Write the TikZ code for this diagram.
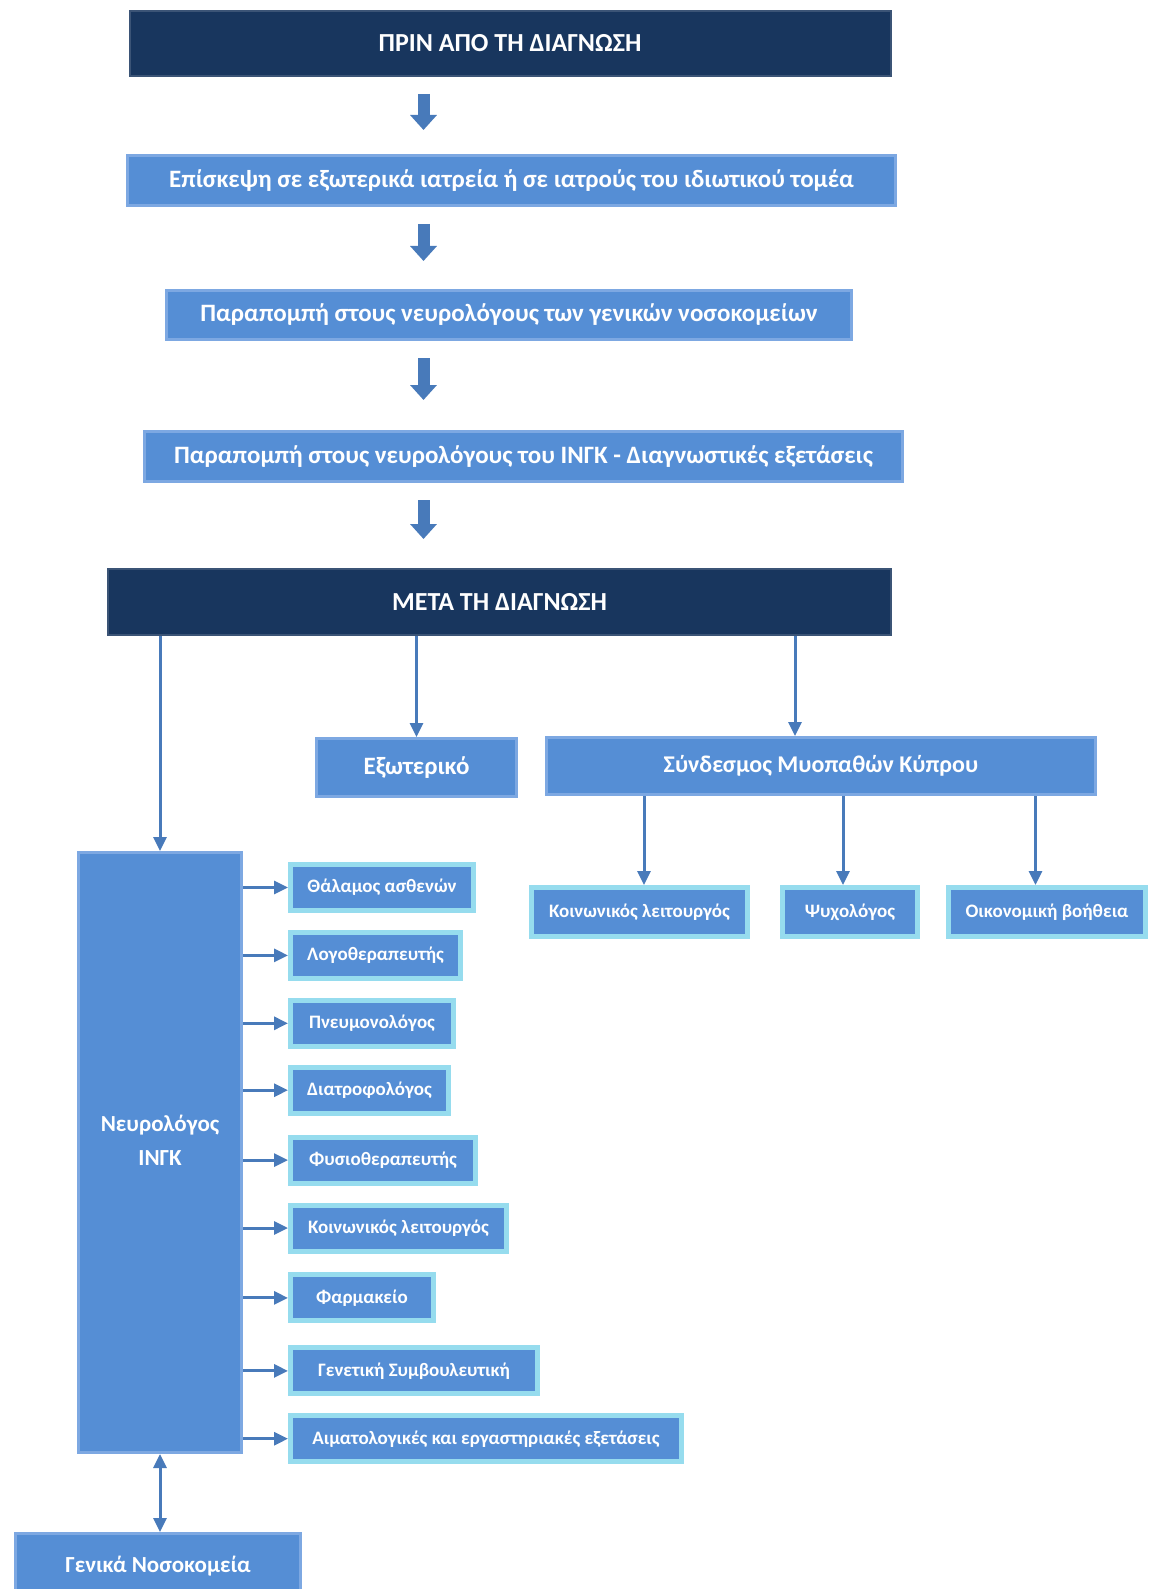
\documentclass[tikz,border=0pt]{standalone}
\usepackage{fontspec}
\setmainfont{Carlito}
\usepackage{tikz}
\usetikzlibrary{arrows.meta}
\definecolor{navy}{RGB}{24,54,94}
\definecolor{boxblue}{RGB}{85,142,213}
\definecolor{boxedge}{RGB}{125,168,226}
\definecolor{glow}{RGB}{150,220,238}
\definecolor{arrowblue}{RGB}{72,122,186}

\begin{document}
\begin{tikzpicture}[x=1pt,y=-1pt,>={Triangle[width=13pt,length=14pt]},
 head/.style={fill=navy,draw=navy!85!white,line width=2pt,text=white,inner sep=0pt,font=\fontsize{26}{30}\selectfont\bfseries},
 wide/.style={fill=boxblue,draw=boxedge,line width=3pt,text=white,inner sep=0pt,font=\fontsize{25}{29}\selectfont\bfseries},
 unit/.style={fill=boxblue,draw=glow,line width=5pt,text=white,inner sep=0pt,minimum height=46pt,font=\fontsize{19}{22}\selectfont\bfseries},
 down/.style={arrowblue,line width=12pt,-{Triangle[width=26pt,length=15pt]},shorten <=17pt},
 link/.style={arrowblue,line width=3pt}]
\fill[white] (0,0) rectangle (1148,1589);
\useasboundingbox (0,0) rectangle (1148,1589);
% before diagnosis
\node[head,minimum width=761pt,minimum height=65pt] (pre) at (510,43.5) {ΠΡΙΝ ΑΠΟ ΤΗ ΔΙΑΓΝΩΣΗ};
\node[wide,minimum width=768pt,minimum height=50pt] (visit) at (511.5,180.5) {Επίσκεψη σε εξωτερικά ιατρεία ή σε ιατρούς του ιδιωτικού τομέα};
\node[wide,minimum width=685pt,minimum height=49pt] (general) at (509,315) {Παραπομπή στους νευρολόγους των γενικών νοσοκομείων};
\node[wide,minimum width=758pt,minimum height=50pt] (ingk) at (523.5,456.5) {Παραπομπή στους νευρολόγους του ΙΝΓΚ - Διαγνωστικές εξετάσεις};
\node[head,minimum width=783pt,minimum height=66pt] (post) at (499.5,602) {ΜΕΤΑ ΤΗ ΔΙΑΓΝΩΣΗ};
\coordinate (ax) at (423.5,0);
\draw[down,shorten >=24pt] (pre.south -| ax) -- (visit.north -| ax);
\draw[down,shorten >=28pt] (visit.south -| ax) -- (general.north -| ax);
\draw[down,shorten >=30pt] (general.south -| ax) -- (ingk.north -| ax);
\draw[down,shorten >=29pt] (ingk.south -| ax) -- (post.north -| ax);
% after diagnosis
\node[wide,minimum width=200pt,minimum height=58pt] (abroad) at (416.5,767.5) {Εξωτερικό};
\node[wide,minimum width=549pt,minimum height=57pt,font=\fontsize{24}{28}\selectfont\bfseries] (assoc) at (821,766) {Σύνδεσμος Μυοπαθών Κύπρου};
\node[unit,minimum width=216pt,minimum height=49pt] (social) at (639.5,912) {Κοινωνικός λειτουργός};
\node[unit,minimum width=135pt,minimum height=49pt] (psych) at (850,912) {Ψυχολόγος};
\node[unit,minimum width=197pt,minimum height=49pt] (money) at (1047,912) {Οικονομική βοήθεια};
\node[wide,minimum width=163pt,minimum height=600pt,align=center,font=\fontsize{23}{34}\selectfont\bfseries] (neuro) at (160,1152.5) {Νευρολόγος\\ΙΝΓΚ\\[-10pt]};
\node[wide,minimum width=285pt,minimum height=65pt,font=\fontsize{23}{28}\selectfont\bfseries] (hosp) at (158,1566) {Γενικά Νοσοκομεία};
\coordinate (sx) at (795,0);
\draw[link,->] (post.south -| neuro.north) -- (neuro.north);
\draw[link,->] (post.south -| abroad.north) -- (abroad.north);
\draw[link,->] (post.south -| sx) -- (assoc.north -| sx);
\draw[link,->] ([xshift=4.5pt]assoc.south -| social.north) -- ([xshift=4.5pt]social.north);
\draw[link,->] ([xshift=-7pt]assoc.south -| psych.north) -- ([xshift=-7pt]psych.north);
\draw[link,->] ([xshift=-11.5pt]assoc.south -| money.north) -- ([xshift=-11.5pt]money.north);
\draw[link,<->] (neuro.south) -- (neuro.south |- hosp.north);
% services of the neurologist
\node[unit,minimum width=183pt] (ward) at (382,887.5) {Θάλαμος ασθενών};
\node[unit,minimum width=170pt] (speech) at (375.5,955.4) {Λογοθεραπευτής};
\node[unit,minimum width=163pt] (lung) at (372,1023.3) {Πνευμονολόγος};
\node[unit,minimum width=158pt] (diet) at (369.5,1090.2) {Διατροφολόγος};
\node[unit,minimum width=185pt] (physio) at (383,1160.1) {Φυσιοθεραπευτής};
\node[unit,minimum width=216pt] (worker) at (398.5,1228) {Κοινωνικός λειτουργός};
\node[unit,minimum width=143pt] (pharm) at (362,1297.9) {Φαρμακείο};
\node[unit,minimum width=247pt] (genet) at (414,1370.9) {Γενετική Συμβουλευτική};
\node[unit,minimum width=391pt] (blood) at (486,1438.7) {Αιματολογικές και εργαστηριακές εξετάσεις};
\draw[link,->] (ward.west -| neuro.east) -- (ward.west);
\draw[link,->] (speech.west -| neuro.east) -- (speech.west);
\draw[link,->] (lung.west -| neuro.east) -- (lung.west);
\draw[link,->] (diet.west -| neuro.east) -- (diet.west);
\draw[link,->] (physio.west -| neuro.east) -- (physio.west);
\draw[link,->] (worker.west -| neuro.east) -- (worker.west);
\draw[link,->] (pharm.west -| neuro.east) -- (pharm.west);
\draw[link,->] (genet.west -| neuro.east) -- (genet.west);
\draw[link,->] (blood.west -| neuro.east) -- (blood.west);
\end{tikzpicture}
\end{document}
